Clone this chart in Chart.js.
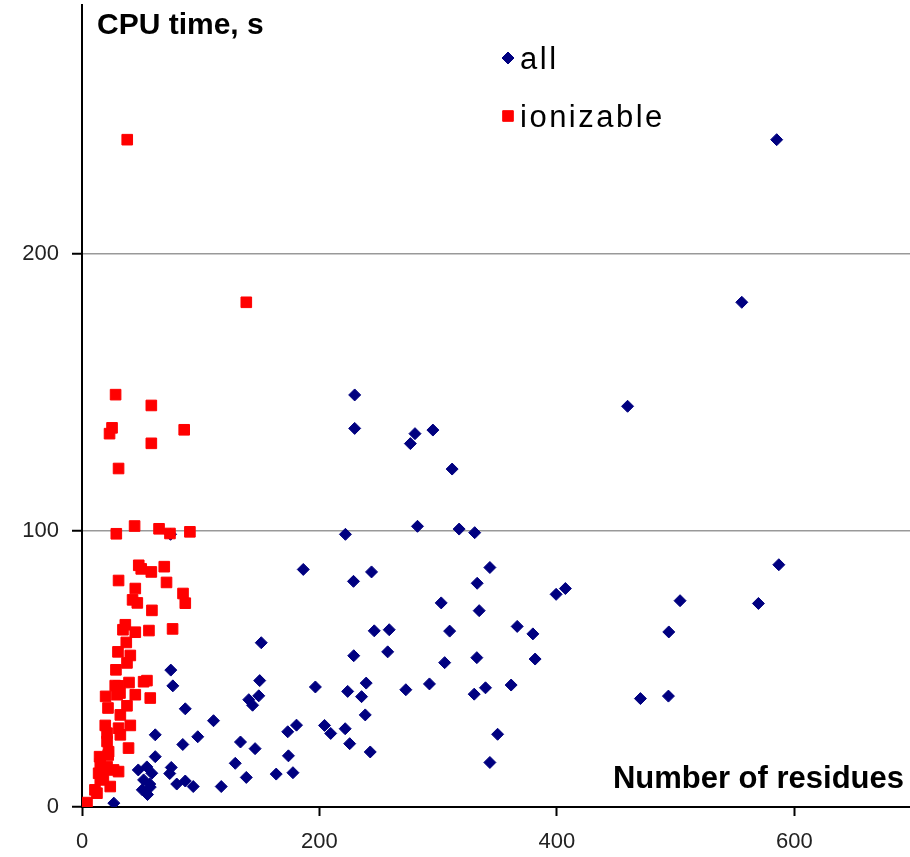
<!DOCTYPE html>
<html>
<head>
<meta charset="utf-8">
<script src="https://cdn.jsdelivr.net/npm/chart.js@4.4.1/dist/chart.umd.min.js"></script>
<style>
  html, body { margin: 0; padding: 0; background: #fff; overflow: hidden; }
</style>
</head>
<body>
<canvas id="chart" width="910" height="857"></canvas>
<script>
// residues vs CPU time, all residues
const allX = [585.2, 555.8, 459.6, 229.7, 229.7, 280.5, 276.6, 295.6, 311.8, 282.6,
  221.9, 317.7, 330.8, 343.6, 186.4, 228.7, 243.9, 332.9, 302.6, 334.6,
  246.2, 258.8, 309.7, 228.9, 257.5, 305.5, 332.6, 196.6, 223.8, 239.4,
  235.5, 272.8, 292.7, 330.4, 339.9, 238.6, 173.3, 180.7, 204.3, 209.5,
  221.7, 225.5, 242.8, 173.9, 177.7, 350.1, 343.6, 163.6, 366.6, 379.8,
  381.7, 399.4, 407.2, 361.5, 503.8, 494.3, 470.4, 494.0, 587.0, 569.8,
  151.0, 74.8, 76.5, 149.7, 148.9, 140.5, 143.7, 87.0, 110.8, 61.7,
  84.9, 97.5, 133.5, 145.8, 129.1, 138.4, 117.3, 93.7, 87.0, 79.8,
  75.2, 73.9, 61.7, 47.4, 54.6, 58.8, 51.9, 57.1, 50.8, 55.2,
  57.5, 26.8, 74.6];
const allY = [241.3, 182.5, 144.9, 149.0, 136.9, 135.0, 131.4, 136.3, 122.2, 101.5,
  98.6, 100.5, 99.2, 86.6, 85.9, 81.6, 85.0, 80.9, 73.8, 71.0,
  63.7, 64.1, 63.6, 54.7, 56.1, 52.2, 54.0, 43.4, 41.8, 44.8,
  39.9, 42.4, 44.5, 40.8, 43.1, 33.3, 27.2, 29.6, 29.5, 26.6,
  28.3, 22.9, 19.9, 18.5, 12.4, 26.3, 16.1, 11.9, 65.3, 62.6,
  53.5, 76.9, 79.0, 44.1, 74.6, 63.3, 39.2, 40.1, 87.6, 73.6,
  59.4, 49.5, 43.8, 45.7, 40.2, 38.8, 36.8, 35.5, 31.2, 26.1,
  22.6, 25.4, 23.5, 21.1, 15.8, 10.7, 7.4, 7.4, 9.4, 8.3,
  14.3, 12.1, 18.2, 13.4, 14.5, 12.2, 9.8, 8.3, 6.2, 4.5,
  7.2, 1.4, 98.6];

// ionizable residues only
const ionX = [38.1, 138.4, 28.3, 58.4, 25.3, 23.2, 86.1, 58.4, 30.8, 28.9,
  44.3, 64.9, 74.1, 90.9, 47.8, 49.9, 58.4, 69.3, 30.8, 71.2,
  44.9, 85.1, 87.0, 42.6, 46.6, 58.9, 36.5, 34.5, 44.9, 56.4,
  76.3, 37.3, 30.3, 40.7, 37.9, 28.6, 28.0, 30.8, 39.6, 51.9,
  54.7, 19.9, 29.5, 44.9, 57.5, 37.9, 21.9, 32.3, 19.6, 40.7,
  30.8, 21.1, 32.3, 39.2, 21.1, 14.8, 22.4, 15.4, 21.1, 26.6,
  30.8, 14.0, 15.4, 23.8, 12.6, 4.2, 10.9, 32.0, 22.1, 18.0];
const ionY = [241.3, 182.5, 149.1, 145.2, 137.1, 135.0, 136.4, 131.5, 122.4, 98.8,
  101.6, 100.6, 98.9, 99.5, 87.4, 86.1, 85.0, 86.9, 81.9, 81.2,
  79.0, 77.2, 73.7, 74.9, 73.8, 71.1, 65.9, 64.1, 63.2, 63.8,
  64.4, 59.5, 56.1, 54.8, 52.1, 49.6, 43.9, 43.8, 45.0, 45.3,
  45.7, 40.0, 40.6, 40.6, 39.4, 36.6, 35.8, 33.3, 29.5, 29.5,
  28.5, 26.7, 26.1, 21.3, 23.7, 18.2, 20.0, 15.8, 14.6, 13.4,
  12.8, 12.2, 9.8, 7.4, 5.0, 1.6, 6.2, 41.2, 18.8, 11.0];

const yTicks = [0, 100, 200];
const xTicks = [0, 200, 400, 600];

const toPoints = (xs, ys) => xs.map((x, i) => ({ x: x, y: ys[i] }));

const NAVY = '#000080';
const RED = '#ff0000';
const FONT = '"Liberation Sans", Arial, sans-serif';

// axis titles and legend sit inside the plot area
const labelsPlugin = {
  id: 'labels',
  afterDraw(chart) {
    const ctx = chart.ctx;
    ctx.save();
    ctx.fillStyle = '#000';
    ctx.textBaseline = 'alphabetic';

    ctx.font = 'bold 30px ' + FONT;
    ctx.textAlign = 'left';
    ctx.fillText('CPU time, s', 97, 34);

    ctx.font = 'bold 31px ' + FONT;
    ctx.textAlign = 'right';
    ctx.fillText('Number of residues', 904, 788);

    const items = [
      { text: 'all', style: 'rectRot', r: 6, color: NAVY, y: 58 },
      { text: 'ionizable', style: 'rect', r: 7.5, color: RED, y: 116 }
    ];
    ctx.font = '31px ' + FONT;
    ctx.textAlign = 'left';
    if ('letterSpacing' in ctx) ctx.letterSpacing = '2.5px';
    for (const it of items) {
      ctx.fillStyle = it.color;
      ctx.strokeStyle = it.color;
      ctx.lineWidth = 1;
      Chart.helpers.drawPoint(ctx, { pointStyle: it.style, radius: it.r, borderWidth: 1 }, 508, it.y);
      ctx.fillStyle = '#000';
      ctx.fillText(it.text, 520, it.y + 11);
    }
    ctx.restore();
  }
};

new Chart(document.getElementById('chart'), {
  type: 'scatter',
  data: {
    datasets: [
      {
        label: 'all',
        data: toPoints(allX, allY),
        pointStyle: 'rectRot',
        pointRadius: 6,
        backgroundColor: NAVY,
        borderColor: NAVY,
        borderWidth: 1,
        order: 1
      },
      {
        label: 'ionizable',
        data: toPoints(ionX, ionY),
        pointStyle: 'rect',
        pointRadius: 7.5,
        backgroundColor: RED,
        borderColor: RED,
        borderWidth: 1,
        order: 0
      }
    ]
  },
  options: {
    responsive: false,
    animation: false,
    devicePixelRatio: 1,
    layout: { autoPadding: false, padding: { top: 5, right: 0, left: 0, bottom: 0 } },
    plugins: {
      legend: { display: false },
      tooltip: { enabled: false }
    },
    scales: {
      x: {
        type: 'linear',
        min: 0,
        max: 697.5,
        afterFit: (s) => { s.height = 50; s.paddingLeft = 0; s.paddingRight = 0; },
        afterBuildTicks: (s) => { s.ticks = xTicks.map(v => ({ value: v })); },
        ticks: { color: '#222', font: { family: FONT, size: 22 }, padding: 13 },
        grid: { drawOnChartArea: false, drawTicks: true, tickLength: 9, tickColor: '#000', tickWidth: 2 },
        border: { color: '#000', width: 2 }
      },
      y: {
        type: 'linear',
        min: 0,
        max: 290,
        afterFit: (s) => { s.width = 82; s.paddingTop = 0; s.paddingBottom = 0; },
        afterBuildTicks: (s) => { s.ticks = yTicks.map(v => ({ value: v })); },
        ticks: { color: '#222', font: { family: FONT, size: 22 }, padding: 13 },
        grid: {
          color: (c) => c.tick && c.tick.value === 0 ? 'rgba(0,0,0,0)' : '#999',
          lineWidth: 1.5,
          tickLength: 10,
          tickColor: '#000',
          tickWidth: 2
        },
        border: { color: '#000', width: 2 }
      }
    }
  },
  plugins: [labelsPlugin]
});
</script>
</body>
</html>
